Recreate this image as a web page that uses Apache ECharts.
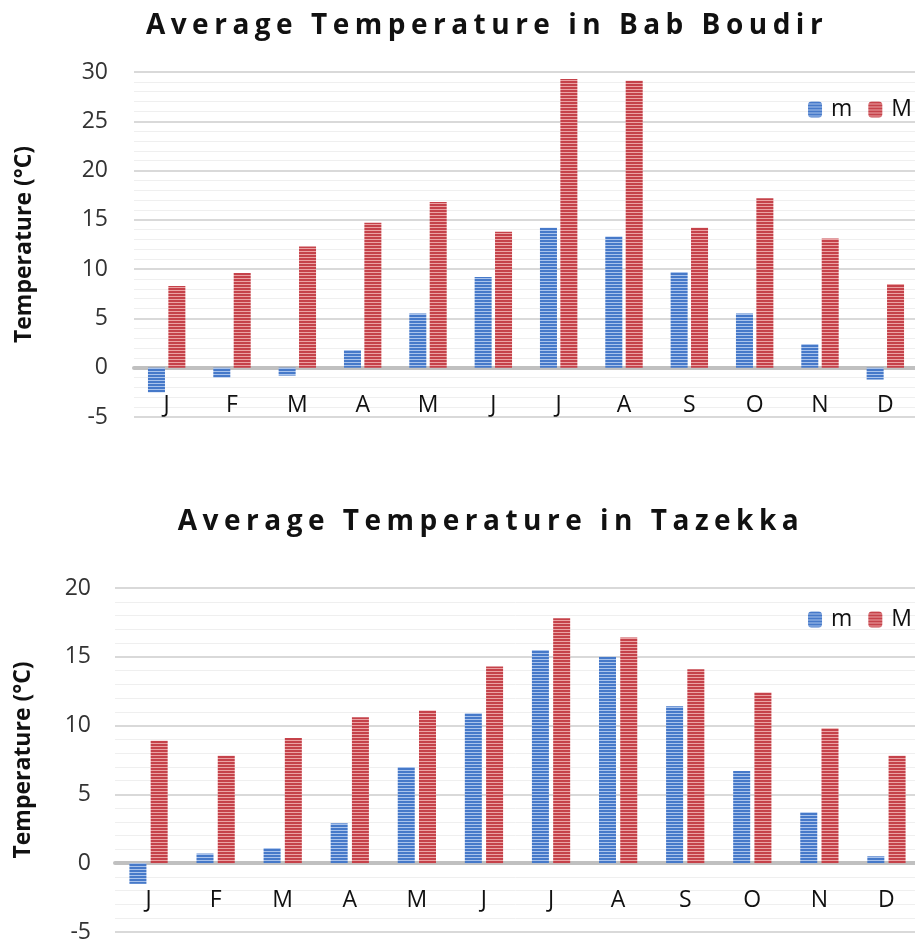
<!DOCTYPE html>
<html>
<head>
<meta charset="utf-8">
<script src="https://cdn.jsdelivr.net/npm/echarts@6/dist/echarts.min.js"></script>
<style>
html,body{margin:0;padding:0;background:#fff;}
#c{width:915px;height:941px;}
</style>
</head>
<body>
<div id="c"></div>
<script>
// ---- data ----
const months = ['J','F','M','A','M','J','J','A','S','O','N','D'];
const babMin = [-2.5, -1.0, -0.8, 1.8, 5.5, 9.2, 14.2, 13.3, 9.7, 5.5, 2.4, -1.2];
const babMax = [8.3, 9.6, 12.3, 14.7, 16.8, 13.8, 29.3, 29.1, 14.2, 17.2, 13.1, 8.5];
const tazMin = [-1.5, 0.7, 1.1, 2.9, 7.0, 10.9, 15.5, 15.0, 11.4, 6.7, 3.7, 0.5];
const tazMax = [8.9, 7.8, 9.1, 10.6, 11.1, 14.3, 17.8, 16.4, 14.1, 12.4, 9.8, 7.8];
const babTicks = {min: -5, max: 30, interval: 5};
const tazTicks = {min: -5, max: 20, interval: 5};
const title1 = 'Average Temperature in Bab Boudir';
const title2 = 'Average Temperature in Tazekka';
const yName = 'Temperature (°C)';

// letter-spaced title text (only the 28px title font)
(function(){
  const P = CanvasRenderingContext2D.prototype;
  const orig = P.fillText;
  P.fillText = function(t, x, y, m){
    if (this.font && this.font.indexOf('28px') >= 0 && 'letterSpacing' in this) {
      const old = this.letterSpacing;
      this.letterSpacing = '5.5px';
      if (m === undefined) orig.call(this, t, x, y); else orig.call(this, t, x, y, m);
      this.letterSpacing = old;
    } else {
      if (m === undefined) orig.call(this, t, x, y); else orig.call(this, t, x, y, m);
    }
  };
})();

function stripe(dark, light){
  const cv = document.createElement('canvas');
  cv.width = 4; cv.height = 3;
  const ctx = cv.getContext('2d');
  ctx.fillStyle = dark; ctx.fillRect(0,0,4,2);
  ctx.fillStyle = light; ctx.fillRect(0,2,4,1);
  return {image: cv, repeat: 'repeat'};
}
const blueFill = stripe('#4679c9', '#a9c3ec');
const redFill = stripe('#c5424a', '#eba3a4');

const FONT = '"Open Sans", "Noto Sans", sans-serif';

function yAxisCfg(idx, t, gap){
  return {
    type: 'value', gridIndex: idx, min: t.min, max: t.max, interval: t.interval,
    name: yName, nameLocation: 'middle', nameGap: gap, nameRotate: 90,
    nameTextStyle: {fontFamily: FONT, fontWeight: 'bold', fontSize: 23, color: '#111'},
    axisLine: {show: false}, axisTick: {show: false},
    axisLabel: {fontFamily: FONT, fontSize: 23, color: '#333', margin: idx === 0 ? 26 : 24},
    splitLine: {show: true, lineStyle: {color: '#d9d9d9', width: 2}},
    minorTick: {show: false, splitNumber: 5},
    minorSplitLine: {show: true, lineStyle: {color: '#efefef', width: 1}}
  };
}
function xAxisCfg(idx, margin){
  return {
    type: 'category', gridIndex: idx, data: months,
    axisLine: {show: true, onZero: true, lineStyle: {color: '#c0c0c0', width: 4}},
    axisTick: {show: false},
    axisLabel: {fontFamily: FONT, fontSize: 23, color: '#111', margin: margin, interval: 0},
    splitLine: {show: false}
  };
}
function legendCfg(top){
  return {
    right: 3, top: top, orient: 'horizontal', padding: 0,
    itemWidth: 14, itemHeight: 16, itemGap: 16,
    textStyle: {fontFamily: FONT, fontSize: 23, color: '#111', padding: [0,0,0,4]},
    data: ['m', 'M'], selectedMode: false
  };
}
function barSeries(name, data, x, fill, bw, gap){
  return {
    name: name, type: 'bar', xAxisIndex: x, yAxisIndex: x, data: data,
    barWidth: bw, barGap: gap,
    itemStyle: {color: fill},
    emphasis: {disabled: true}
  };
}

const chart = echarts.init(document.getElementById('c'), null, {renderer: 'canvas'});
chart.setOption({
  animation: false,
  backgroundColor: '#fff',
  title: [
    {text: title1, left: 487, top: 26, textAlign: 'center', textVerticalAlign: 'middle', padding: 0,
     textStyle: {fontFamily: FONT, fontWeight: 'bold', fontSize: 28, color: '#111'}},
    {text: title2, left: 491, top: 522, textAlign: 'center', textVerticalAlign: 'middle', padding: 0,
     textStyle: {fontFamily: FONT, fontWeight: 'bold', fontSize: 28, color: '#111'}}
  ],
  legend: [legendCfg(98), legendCfg(608)],
  grid: [
    {left: 134, top: 72, width: 784, height: 345, containLabel: false, outerBoundsMode: 'none'},
    {left: 115, top: 588, width: 805, height: 344, containLabel: false, outerBoundsMode: 'none'}
  ],
  xAxis: [xAxisCfg(0, -23), xAxisCfg(1, -43)],
  yAxis: [yAxisCfg(0, babTicks, 98), yAxisCfg(1, tazTicks, 80)],
  series: [
    barSeries('m', babMin, 0, blueFill, 17, '20%'),
    barSeries('M', babMax, 0, redFill, 17, '20%'),
    barSeries('m', tazMin, 1, blueFill, 17, '25%'),
    barSeries('M', tazMax, 1, redFill, 17, '25%')
  ]
});
</script>
</body>
</html>
